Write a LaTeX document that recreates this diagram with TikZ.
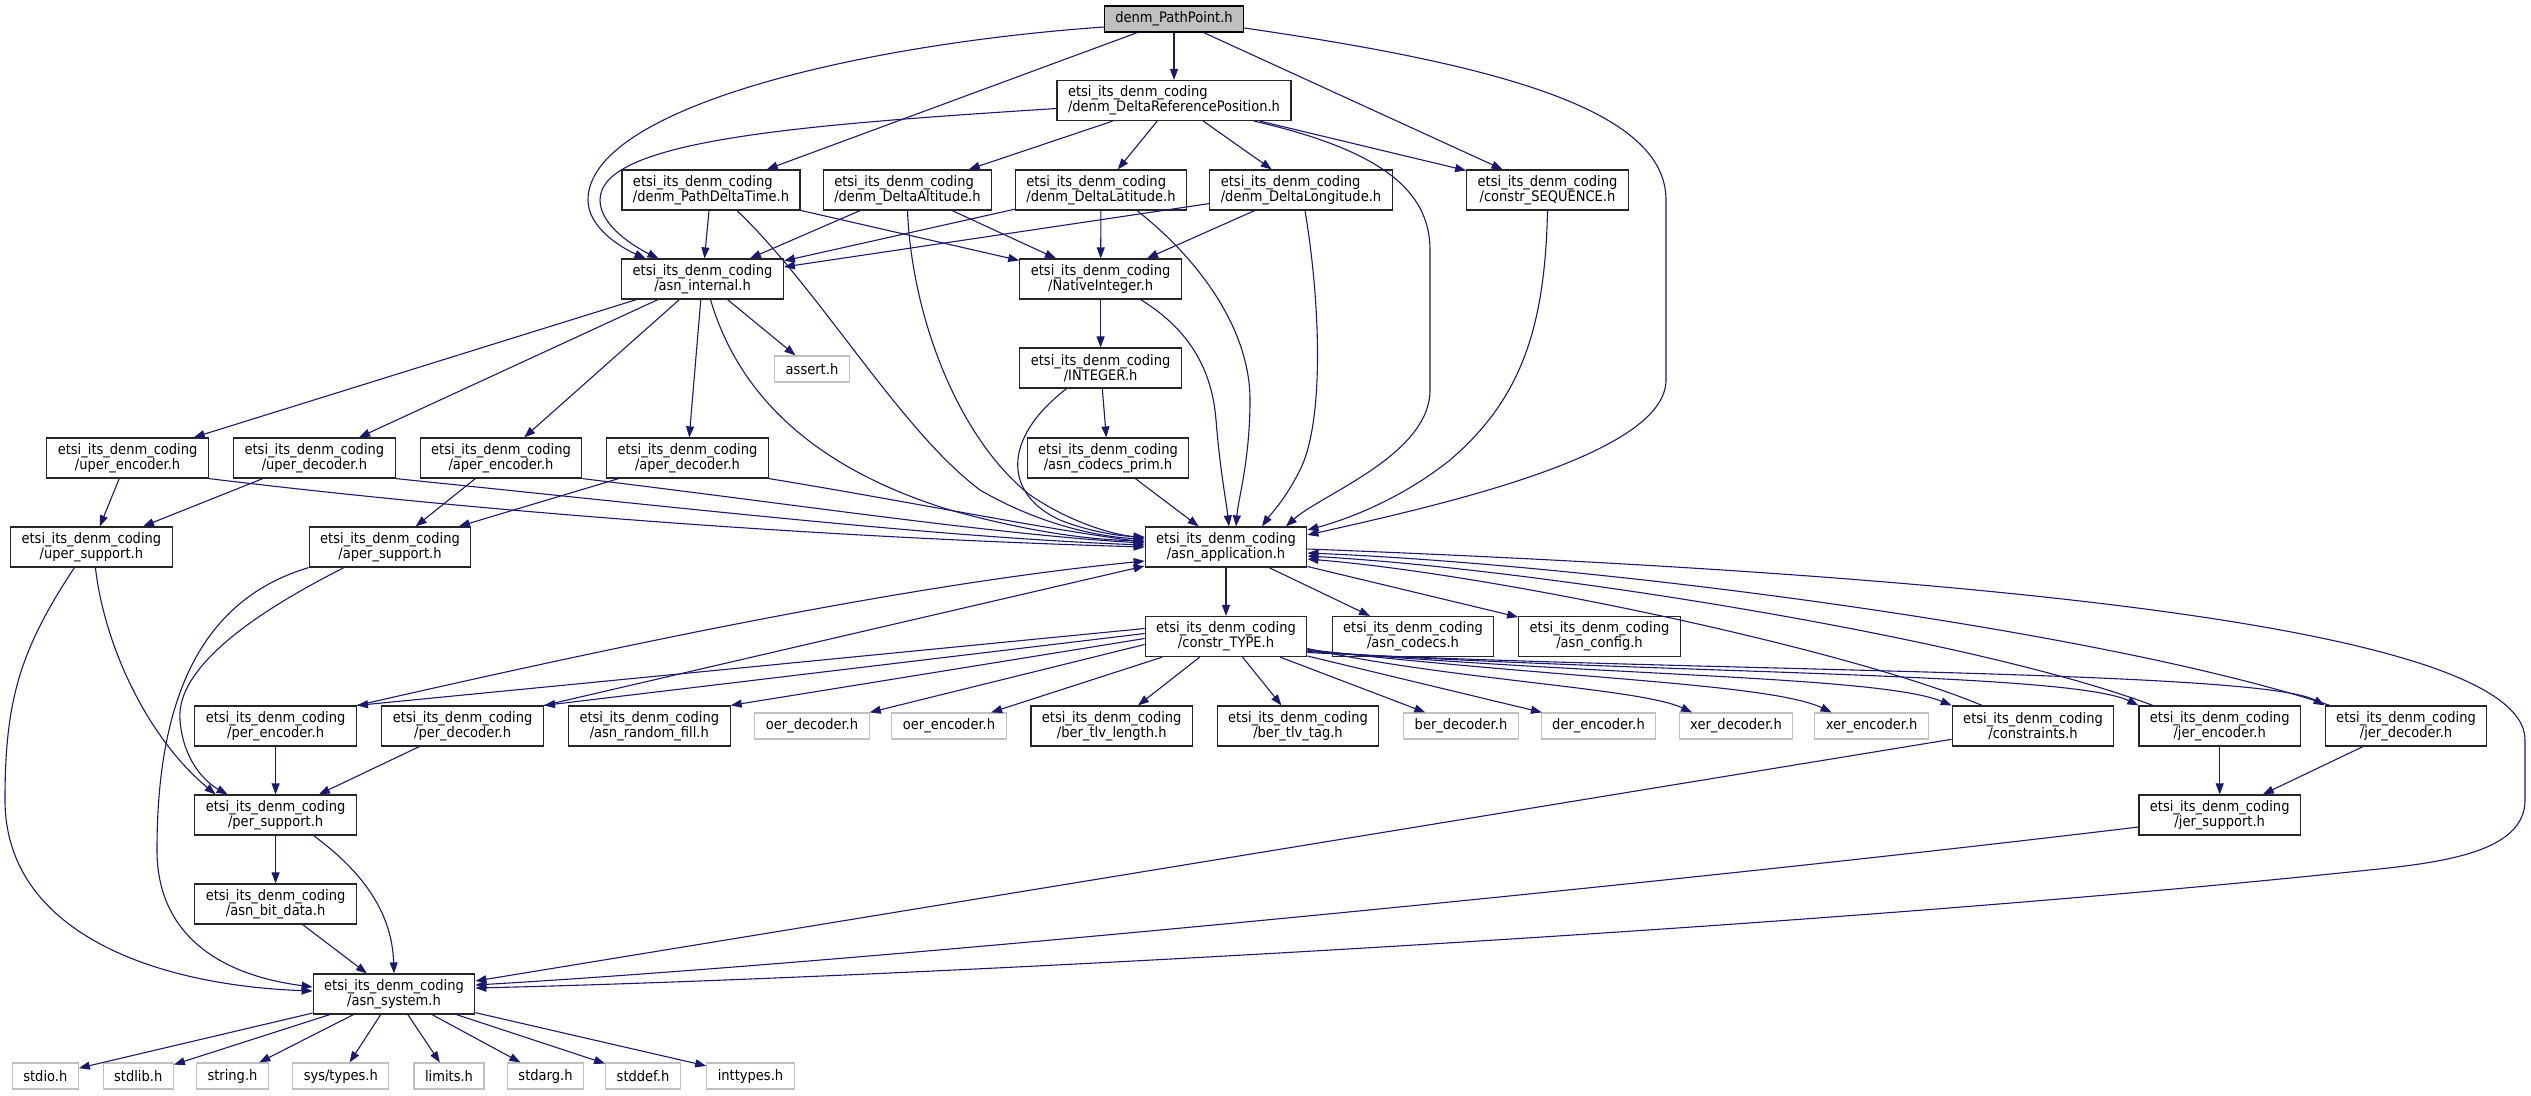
\documentclass[tikz,border=0pt]{standalone}
\usepackage{fontspec}
\setmainfont{DejaVu Sans}[FakeStretch=0.9]
\usetikzlibrary{arrows.meta,calc}
\definecolor{edgec}{HTML}{191970}
\definecolor{grayb}{HTML}{BFBFBF}
\newcommand\etsi{etsi\_its\_denm\_coding\\}
\begin{document}
\begin{tikzpicture}[x=1pt,y=-1pt,
 box/.style={draw=black!85, line width=1.2pt, fill=white, inner xsep=11pt, inner ysep=0pt,
   minimum height=40pt, align=center, font=\fontsize{14.5pt}{15pt}\selectfont},
 lbox/.style={box, align=left},
 one/.style={box, minimum height=26pt},
 gbox/.style={one, draw=grayb},
 conn/.style={draw=edgec, line width=1.1pt, -{Triangle[length=11pt,width=8pt]}},
]
\useasboundingbox (0,0) rectangle (2531,1095);
% ---- nodes
\node[one, fill=grayb, draw=black] (pp) at (1174,19) {denm\_PathPoint.h};
\node[lbox] (drp) at (1174,100.5) {\etsi/denm\_DeltaReferencePosition.h};
\node[lbox] (pdt) at (711,190) {\etsi/denm\_PathDeltaTime.h};
\node[lbox] (dalt) at (907.5,190) {\etsi/denm\_DeltaAltitude.h};
\node[lbox] (dlat) at (1101,190) {\etsi/denm\_DeltaLatitude.h};
\node[lbox] (dlon) at (1301,190) {\etsi/denm\_DeltaLongitude.h};
\node[box] (cseq) at (1547.5,190) {\etsi/constr\_SEQUENCE.h};
\node[box] (asi) at (702.5,279) {\etsi/asn\_internal.h};
\node[box] (nint) at (1100.6,279) {\etsi/NativeInteger.h};
\node[gbox] (assert) at (812,369) {assert.h};
\node[box] (intg) at (1100.6,368) {\etsi/INTEGER.h};
\node[box] (uenc) at (127.6,458) {\etsi/uper\_encoder.h};
\node[box] (udec) at (314.4,458) {\etsi/uper\_decoder.h};
\node[box] (aenc) at (501,458) {\etsi/aper\_encoder.h};
\node[box] (adec) at (687.5,458) {\etsi/aper\_decoder.h};
\node[box] (acp) at (1108,458) {\etsi/asn\_codecs\_prim.h};
\node[box] (usup) at (91.4,547) {\etsi/uper\_support.h};
\node[box] (asup) at (390,547) {\etsi/aper\_support.h};
\node[box] (aapp) at (1226,547) {\etsi/asn\_application.h};
\node[box] (ctype) at (1226,636.5) {\etsi/constr\_TYPE.h};
\node[box] (acod) at (1413,636.5) {\etsi/asn\_codecs.h};
\node[box] (acfg) at (1599.5,636.5) {\etsi/asn\_config.h};
\node[box] (penc) at (275.6,726) {\etsi/per\_encoder.h};
\node[box] (pdec) at (462.6,726) {\etsi/per\_decoder.h};
\node[box] (arf) at (649.3,726) {\etsi/asn\_random\_fill.h};
\node[gbox] (oerd) at (812,726) {oer\_decoder.h};
\node[gbox] (oere) at (949,726) {oer\_encoder.h};
\node[box] (btl) at (1111.7,726) {\etsi/ber\_tlv\_length.h};
\node[box] (btt) at (1298,726) {\etsi/ber\_tlv\_tag.h};
\node[gbox] (berd) at (1461,726) {ber\_decoder.h};
\node[gbox] (dere) at (1598.5,726) {der\_encoder.h};
\node[gbox] (xerd) at (1736,726) {xer\_decoder.h};
\node[gbox] (xere) at (1871.6,726) {xer\_encoder.h};
\node[box] (cons) at (2033,726) {\etsi/constraints.h};
\node[box] (jenc) at (2219.7,726) {\etsi/jer\_encoder.h};
\node[box] (jdec) at (2406,726) {\etsi/jer\_decoder.h};
\node[box] (psup) at (275.6,815) {\etsi/per\_support.h};
\node[box] (jsup) at (2219.7,815) {\etsi/jer\_support.h};
\node[box] (abd) at (275.6,904) {\etsi/asn\_bit\_data.h};
\node[box] (asys) at (394,994) {\etsi/asn\_system.h};
\node[gbox] (stdio) at (45.3,1076) {stdio.h};
\node[gbox] (stdlib) at (138.2,1076) {stdlib.h};
\node[gbox] (string) at (232.5,1076) {string.h};
\node[gbox] (systypes) at (340.8,1076) {sys/types.h};
\node[gbox] (limits) at (449,1076) {limits.h};
\node[gbox] (stdarg) at (545.5,1076) {stdarg.h};
\node[gbox] (stddef) at (643,1076) {stddef.h};
\node[gbox] (inttypes) at (750.5,1076) {inttypes.h};
% ---- straight connectors
\foreach \a/\b in {pp/drp,pp/pdt,pp/cseq,drp/dalt,drp/dlat,drp/dlon,drp/cseq,
  pdt/asi,pdt/nint,dalt/asi,dalt/nint,dlat/asi,dlat/nint,dlon/asi,dlon/nint,
  asi/uenc,asi/udec,asi/aenc,asi/adec,asi/assert,nint/intg,intg/acp,acp/aapp,
  uenc/usup,udec/usup,aenc/asup,adec/asup,aapp/ctype,aapp/acod,aapp/acfg,
  ctype/oere,ctype/btl,ctype/btt,ctype/berd,ctype/dere,penc/psup,pdec/psup,
  psup/abd,abd/asys,jenc/jsup,jdec/jsup,cons/asys,
  asys/stdio,asys/stdlib,asys/string,asys/systypes,asys/limits,asys/stdarg,asys/stddef,asys/inttypes}
  {\draw[conn] (\a) -- (\b);}
% ---- curved connectors, top part
\draw[conn] ([yshift=-8pt]pp.west) .. controls (850,45) and (588,110) .. (588,200)
  .. controls (588,228) and (622,248) .. ([xshift=-57pt]asi.north);
\draw[conn] ([yshift=-8pt]drp.west) .. controls (800,125) and (600,140) .. (600,200)
  .. controls (600,226) and (635,247) .. ([xshift=-44pt]asi.north);
\draw[conn] ([yshift=-9pt]pp.east) .. controls (1500,65) and (1666,110) .. (1666,200) -- (1666,380)
  .. controls (1666,455) and (1440,505) .. ([yshift=12pt]aapp.east);
\draw[conn] ([xshift=80pt]drp.south) .. controls (1380,150) and (1430,190) .. (1430,250) -- (1430,390)
  .. controls (1430,455) and (1320,495) .. ([xshift=60pt]aapp.north);
\draw[conn] (cseq.south) .. controls (1545,330) and (1520,400) .. (1450,460)
  .. controls (1400,500) and (1345,520) .. ([yshift=17pt]aapp.east);
\draw[conn] ([xshift=4pt]dlon.south) .. controls (1320,300) and (1325,420) .. (1300,470)
  .. controls (1285,500) and (1270,515) .. ([xshift=36pt]aapp.north);
\draw[conn] ([xshift=36pt]dlat.south) .. controls (1200,260) and (1250,330) .. (1250,400)
  .. controls (1250,460) and (1238,500) .. ([xshift=10pt]aapp.north);
\draw[conn] ([xshift=40pt]nint.south) .. controls (1190,330) and (1212,370) .. (1216,420)
  .. controls (1220,470) and (1226,500) .. ([xshift=3pt]aapp.north);
\draw[conn] ([xshift=-34pt]intg.south) .. controls (1000,440) and (1005,495) .. (1060,520)
  .. controls (1090,532) and (1120,536) .. ([yshift=10pt]aapp.west);
\draw[conn] (dalt.south) .. controls (912,320) and (960,440) .. (1030,495)
  .. controls (1070,522) and (1110,534) .. ([yshift=9pt]aapp.west);
\draw[conn] ([xshift=26pt]pdt.south) .. controls (820,290) and (900,430) .. (980,490)
  .. controls (1040,525) and (1100,537) .. ([yshift=8pt]aapp.west);
\draw[conn] ([xshift=8pt]asi.south) .. controls (740,400) and (820,470) .. (950,510)
  .. controls (1040,535) and (1100,540) .. ([yshift=6pt]aapp.west);
\draw[conn] (adec.south east) .. controls (900,500) and (1050,530) .. ([yshift=5pt]aapp.west);
\draw[conn] (aenc.south east) .. controls (800,505) and (1000,535) .. ([yshift=4pt]aapp.west);
\draw[conn] (udec.south east) .. controls (700,510) and (950,538) .. ([yshift=2pt]aapp.west);
\draw[conn] (uenc.south east) .. controls (550,520) and (900,540) .. (aapp.west);
% ---- left lower part
\draw[conn] (penc.north east) .. controls (600,650) and (900,585) .. ([yshift=-14pt]aapp.west);
\draw[conn] (pdec.north east) -- ([yshift=-19pt]aapp.west);
\draw[conn] ([yshift=8pt]ctype.west) -- (penc.north east);
\draw[conn] ([yshift=3pt]ctype.west) -- (pdec.north east);
\draw[conn] ([yshift=-2pt]ctype.west) -- (arf.north east);
\draw[conn] ([yshift=-8pt]ctype.west) -- (oerd.north east);
\draw[conn] ([xshift=4pt]usup.south) .. controls (105,650) and (150,740) .. ([xshift=-60pt]psup.north);
\draw[conn] ([xshift=-17pt]usup.south) .. controls (20,650) and (5,700) .. (5,800)
  .. controls (5,930) and (150,985) .. ([yshift=3pt]asys.west);
\draw[conn] (asup.south west) .. controls (200,600) and (157,700) .. (157,850)
  .. controls (157,935) and (220,975) .. ([yshift=7pt]asys.west);
\draw[conn] ([xshift=-46pt]asup.south) .. controls (280,600) and (175,660) .. (180,720)
  .. controls (183,760) and (205,782) .. ([xshift=-48pt]psup.north);
\draw[conn] ([xshift=38pt]psup.south) .. controls (360,870) and (392,910) .. (asys.north);
% ---- right part
\draw[conn] ([yshift=-12pt]ctype.east) .. controls (1450,680) and (1640,688) .. ([xshift=-44pt]xerd.north);
\draw[conn] ([yshift=-13pt]ctype.east) .. controls (1550,678) and (1770,683) .. ([xshift=-40pt]xere.north);
\draw[conn] ([yshift=-14pt]ctype.east) .. controls (1600,676) and (1880,676) .. (cons.north west);
\draw[conn] ([yshift=-15pt]ctype.east) .. controls (1650,674) and (2070,672) .. (jenc.north west);
\draw[conn] ([yshift=-16pt]ctype.east) .. controls (1700,672) and (2260,670) .. (jdec.north west);
\draw[conn] ([xshift=-51pt]cons.north) .. controls (1850,650) and (1500,575) .. ([yshift=-12pt]aapp.east);
\draw[conn] ([xshift=-67pt]jenc.north) .. controls (1980,640) and (1550,570) .. ([yshift=-9pt]aapp.east);
\draw[conn] ([xshift=-76pt]jdec.north) .. controls (2100,630) and (1600,565) .. ([yshift=-6pt]aapp.east);
\draw[conn] ([yshift=-2pt]aapp.east) .. controls (1900,572) and (2525,620) .. (2525,740) -- (2525,800)
  .. controls (2525,850) and (2450,862) .. (2369,870)
  .. controls (1800,930) and (900,978) .. ([yshift=6pt]asys.east);
\draw[conn] ([yshift=-12pt]jsup.west) .. controls (1700,880) and (900,960) .. ([yshift=9pt]asys.east);
\end{tikzpicture}
\end{document}
